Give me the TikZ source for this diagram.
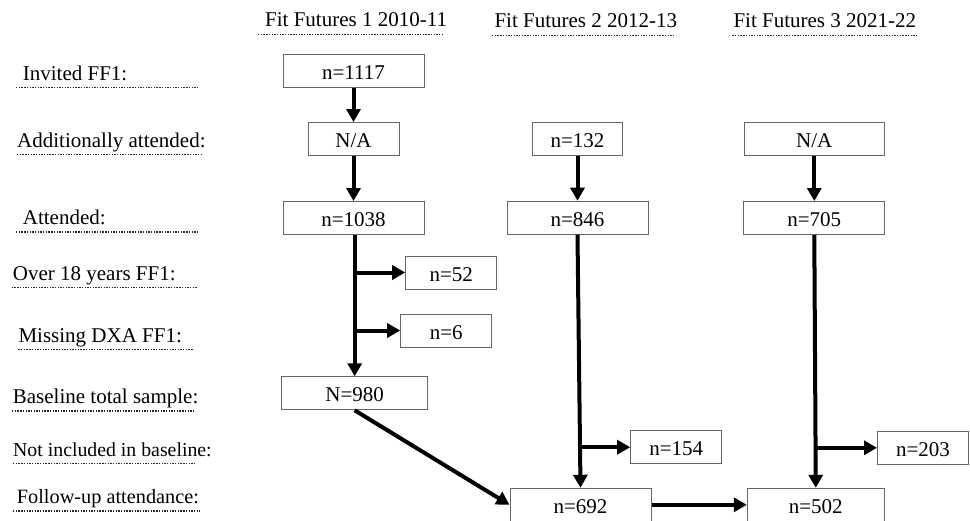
\documentclass[tikz,border=0pt]{standalone}
\usepackage{fontspec}
\setmainfont{Liberation Serif}
\usepackage{tikz}
\usetikzlibrary{arrows.meta,positioning}
\tikzset{
	basic/.style = {font=\fontsize{21pt}{25pt}\selectfont, inner sep=0pt},
	nbox/.style = {basic, draw=black!60, line width=1pt, minimum height=33pt, align=center, text height=18pt, text depth=1pt},
	rowtext/.style = {basic, anchor=base west, text depth=7.3pt},
	dotline/.style = {black!85, line width=1.4pt, dash pattern=on 1.4pt off 1.3pt},
	flow/.style = {->, line width=4pt}
}

\begin{document}
\begin{tikzpicture}[x=1pt, y=-1pt,
			>={Triangle[length=13pt,width=14pt]}]
	\useasboundingbox (0,0) rectangle (970,520);
	
	% column headings and row labels, each with a dotted rule below
	\foreach \nm/\xa/\xb/\yd/\dx/\fs/\txt in {
			head1/258/443/34/7/21/{Fit Futures 1 2010-11},
			head2/492/675/35/2.3/21/{Fit Futures 2 2012-13},
			head3/732.3/917/35/1/21/{Fit Futures 3 2021-22},
			rinv/16/199/87.3/6.7/21/{Invited FF1:},
			radd/17/201/154.3/0/21/{Additionally attended:},
			ratt/16/199/231.7/6.7/21/{Attended:},
			rover/11.7/196.7/287.3/1/21/{Over 18 years FF1:},
			rmiss/18.3/192.7/349.3/0/21/{Missing DXA FF1:},
			rbase/12/195/410.7/0.7/21/{Baseline total sample:},
			rnot/13/195/463.3/0/19.8/{Not included in baseline:},
			rfol/13/200/510.7/3.7/20.3/{Follow-up attendance:}}
	{
		\pgfmathsetmacro\w{\xb-\xa}
		\node[rowtext] (\nm) at ({\xa},{\yd-7.3})
			{\fontsize{\fs pt}{25pt}\selectfont\makebox[\w pt][l]{\hspace*{\dx pt}\txt}};
		\draw[dotline] (\nm.south west) -- (\nm.south east);
	}
	
	% Fit Futures 1
	\node[nbox, minimum width=141pt] (inv1) at (353.5,71) {n=1117};
	\node[nbox, minimum width=91pt, below=34pt of inv1] (add1) {N/A};
	\node[nbox, minimum width=141pt, below=45pt of add1] (att1) {n=1038};
	\node[nbox, minimum width=91pt] (over1) at (451.2,272.5) {n=52};
	\node[nbox, minimum width=91pt] (miss1) at (446.2,330.5) {n=6};
	\node[nbox, minimum width=146pt] (base1) at (354.7,393.3) {N=980};
	
	% Fit Futures 2
	\node[nbox, minimum width=90pt] (add2) at (577.5,138.7) {n=132};
	\node[nbox, minimum width=141pt, below=45pt of add2] (att2) {n=846};
	\node[nbox, minimum width=91pt] (not2) at (676.2,447.2) {n=154};
	\node[nbox, minimum width=141pt] (fol2) at (580.5,504.8) {n=692};
	
	% Fit Futures 3
	\node[nbox, minimum width=140pt] (add3) at (814.3,139) {N/A};
	\node[nbox, minimum width=141pt, below=45pt of add3] (att3) {n=705};
	\node[nbox, minimum width=91pt] (not3) at (923,447.8) {n=203};
	\node[nbox, minimum width=137pt] (fol3) at (815.8,504.8) {n=502};
	
	% arrows down each column
	\draw[flow] (inv1) -- (add1);
	\draw[flow] (add1) -- (att1);
	\draw[flow] (att1.south -| base1.north) -- (base1.north);
	\draw[flow] (base1.north |- over1.west) -- (over1.west);
	\draw[flow] (base1.north |- miss1.west) -- (miss1.west);
	\draw[flow] (base1.south) -- (fol2.west);
	
	\draw[flow] (add2) -- (att2);
	\draw[flow] (att2.south) -- (fol2.north);
	\draw[flow] (fol2.north |- not2.west) -- (not2.west);
	
	\draw[flow] (add3) -- (att3);
	\draw[flow] (att3.south) -- (fol3.north);
	\draw[flow] (fol3.north |- not3.west) -- (not3.west);
	
	\draw[flow] (fol2) -- (fol3);
\end{tikzpicture}
\end{document}
